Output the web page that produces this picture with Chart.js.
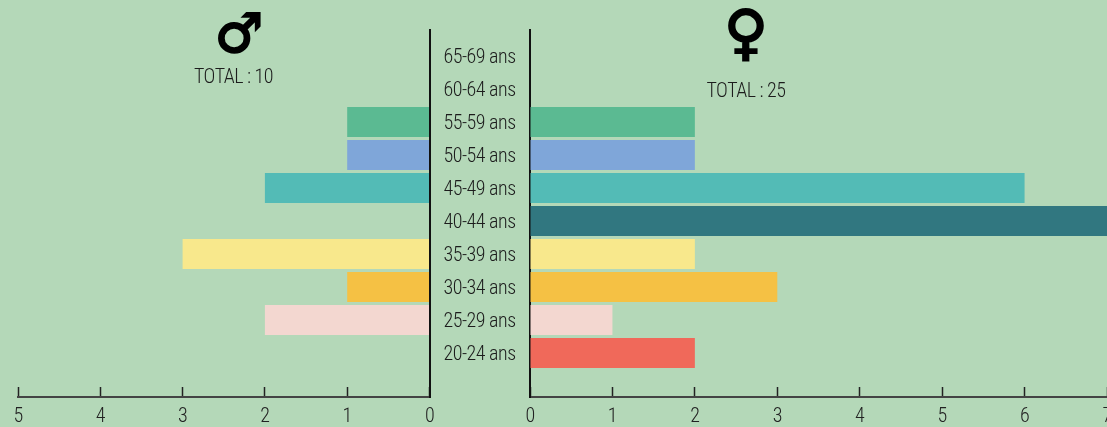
<!DOCTYPE html>
<html>
<head>
<meta charset="utf-8">
<style>
    html, body { margin: 0; height: 100%; overflow: hidden; background: #b4d8b8; }
    canvas { position: absolute; top: 0; }
    #chart-men { left: 0; }
    #chart-women { left: 520px; }
</style>
<script src="https://cdn.jsdelivr.net/npm/chart.js@4"></script>
</head>
<body>
<canvas id="chart-men" width="540" height="427"></canvas>
<canvas id="chart-women" width="620" height="427"></canvas>
<script>
const ageGroups = ["65-69 ans", "60-64 ans", "55-59 ans", "50-54 ans", "45-49 ans", "40-44 ans", "35-39 ans", "30-34 ans", "25-29 ans", "20-24 ans"];
const men = [0, 0, 1, 1, 2, 0, 3, 1, 2, 0];
const women = [0, 0, 2, 2, 6, 7, 2, 3, 1, 2];
const barColors = ["#000000", "#000000", "#5bba92", "#7fa6d9", "#53bbb6", "#317780", "#f8e88c", "#f5c144", "#f3d7d0", "#f0695a"];

const textFont = 'Roboto, sans-serif';

function points(values) {
    return values.map((v, i) => ({ x: v, y: i }));
}

// symbol and total above each side
function headerPlugin(symbol, symbolSize, symbolX, symbolY, total, totalX, totalY) {
    return {
        id: "header",
        beforeDraw(chart) {
            chart.ctx.fontStretch = "extra-condensed";
            chart.ctx.letterSpacing = "-0.5px";
        },
        afterDraw(chart) {
            const ctx = chart.ctx;
            ctx.save();
            ctx.textAlign = "center";
            ctx.textBaseline = "middle";
            ctx.fillStyle = "#000";
            ctx.strokeStyle = "#000";
            ctx.lineWidth = 2;
            ctx.font = "bold " + symbolSize + 'px "DejaVu Sans"';
            ctx.fontStretch = "normal";
            ctx.letterSpacing = "0px";
            ctx.fillText(symbol, symbolX, symbolY);
            ctx.strokeText(symbol, symbolX, symbolY);
            ctx.fillStyle = "#1c1c1c";
            ctx.font = "300 20px " + textFont;
            ctx.fontStretch = "extra-condensed";
            ctx.letterSpacing = "-0.5px";
            ctx.fillText(total, totalX, totalY);
            ctx.restore();
        }
    };
}

function createPyramidSide(id, values, maxValue, side, padding, plugin) {
    return new Chart(document.getElementById(id), {
        type: "bar",
        data: {
            datasets: [{
                data: points(values),
                backgroundColor: barColors,
                barPercentage: 0.91,
                categoryPercentage: 1
            }]
        },
        options: {
            indexAxis: "y",
            responsive: false,
            animation: false,
            layout: { padding: padding },
            plugins: { legend: { display: false }, tooltip: { enabled: false } },
            scales: {
                x: {
                    type: "linear",
                    reverse: side === "men",
                    min: 0,
                    max: maxValue,
                    afterFit: s => { s.height = 30; s.paddingLeft = 0; s.paddingRight = 0; },
                    afterBuildTicks: s => { s.ticks = s.ticks.filter(t => Number.isInteger(t.value)); },
                    border: { color: "#444", width: 2 },
                    grid: { drawOnChartArea: false, color: "#222", tickLength: -10, tickWidth: 1.5 },
                    ticks: {
                        stepSize: 1,
                        padding: 18,
                        maxRotation: 0,
                        color: "#222",
                        font: { family: textFont, size: 20, weight: "300" }
                    }
                },
                y: {
                    type: "linear",
                    reverse: true,
                    offset: false,
                    position: side === "men" ? "right" : "left",
                    min: -0.79,
                    max: 10.33,
                    afterFit: s => { s.width = side === "men" ? 110.5 : 10; },
                    afterBuildTicks: s => { s.ticks = ageGroups.map((_, i) => ({ value: i })); },
                    border: { color: "#111", width: 2 },
                    grid: { display: false, drawTicks: false },
                    ticks: {
                        display: side === "men",
                        autoSkip: false,
                        padding: 14,
                        labelOffset: 2,
                        crossAlign: "near",
                        color: "#1c1c1c",
                        font: { family: textFont, size: 20, weight: "300" },
                        callback: v => ageGroups[v]
                    }
                }
            }
        },
        plugins: [plugin]
    });
}

createPyramidSide("chart-men", men, 5, "men",
    { left: 18, top: 30, right: 0, bottom: 0 },
    headerPlugin("\u2642", 54, 239, 37.5, "TOTAL : 10", 233.5, 78));
createPyramidSide("chart-women", women, 7, "women",
    { left: 0, top: 30, right: 33, bottom: 0 },
    headerPlugin("\u2640", 60, 226, 37.5, "TOTAL : 25", 226, 92));
</script>
</body>
</html>
